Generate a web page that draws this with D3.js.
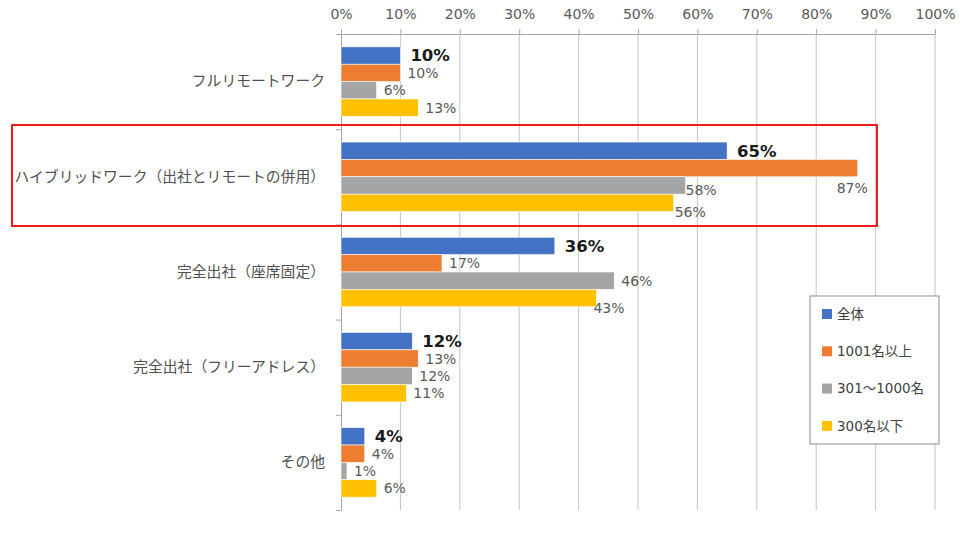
<!DOCTYPE html>
<html>
<head>
<meta charset="utf-8">
<script src="https://cdn.jsdelivr.net/npm/d3@7"></script>
<style>
  body { margin: 0; background: #fff; }
  text { font-family: "DejaVu Sans", "Noto Sans CJK JP", sans-serif; }
</style>
</head>
<body>
<div id="chart"></div>
<script>
// data
var categories = [
  "フルリモートワーク",
  "ハイブリッドワーク（出社とリモートの併用）",
  "完全出社（座席固定）",
  "完全出社（フリーアドレス）",
  "その他"
];
var seriesNames = ["全体", "1001名以上", "301～1000名", "300名以下"];
var seriesColors = ["#4472C4", "#ED7D31", "#A5A5A5", "#FFC000"];
var allValues   = [10, 65, 36, 12, 4];
var largeValues = [10, 87, 17, 13, 4];
var midValues   = [6, 58, 46, 12, 1];
var smallValues = [13, 56, 43, 11, 6];
var xTicks = [0, 10, 20, 30, 40, 50, 60, 70, 80, 90, 100];

var seriesValues = [allValues, largeValues, midValues, smallValues];

// hand-moved labels (category index + series index)
var labelNudge = {
  "1-1": { dx: 10, dy: 20, anchor: "end" },
  "1-2": { dx: 0, dy: 4 },
  "1-3": { dx: 1, dy: 9 },
  "2-3": { dx: -3, dy: 10 }
};

var svgWidth = 974;
var svgHeight = 537;
var plotLeft = 341, plotRight = 935, plotTop = 34, plotBottom = 510;

var svg = d3.select("#chart")
  .append("svg")
  .attr("width", svgWidth)
  .attr("height", svgHeight);

var x = d3.scaleLinear().domain([0, 100]).range([plotLeft, plotRight]);

var y0 = d3.scaleBand()
  .domain(categories)
  .range([plotTop, plotBottom])
  .paddingInner(0.27)
  .paddingOuter(0.135);

var y1 = d3.scaleBand()
  .domain(seriesNames)
  .range([0, y0.bandwidth()]);

var yIdx = d3.scaleLinear().domain([0, categories.length]).range([plotTop, plotBottom]);

// gridlines
svg.append("g")
  .selectAll("line")
  .data(xTicks.slice(1))
  .enter()
  .append("line")
    .attr("x1", d => x(d)).attr("x2", d => x(d))
    .attr("y1", plotTop).attr("y2", plotBottom)
    .attr("stroke", "#c4c4c4")
    .attr("stroke-width", 1);

// top axis
var xAxis = svg.append("g")
  .attr("transform", `translate(0,${plotTop})`)
  .call(d3.axisTop(x).tickValues(xTicks).tickFormat(d => d + "%").tickSize(5).tickSizeOuter(0).tickPadding(9));
xAxis.select(".domain").attr("stroke", "#a6a6a6");
xAxis.selectAll(".tick line").attr("stroke", "#a6a6a6");
xAxis.selectAll("text")
  .attr("fill", "#595959")
  .attr("font-size", "14px")
  .attr("dy", "-0.05em");

// left axis with boundary ticks
var yAxis = svg.append("g")
  .attr("transform", `translate(${plotLeft},0)`)
  .call(d3.axisLeft(yIdx).tickValues(d3.range(categories.length + 1)).tickFormat("").tickSize(5).tickSizeOuter(0));
yAxis.select(".domain").attr("stroke", "#a6a6a6");
yAxis.selectAll(".tick line").attr("stroke", "#a6a6a6");

var yLabels = svg.append("g")
  .attr("transform", `translate(${plotLeft},0)`)
  .call(d3.axisLeft(y0).tickSize(0).tickPadding(16));
yLabels.select(".domain").remove();
yLabels.selectAll("text")
  .attr("fill", "#505050")
  .attr("font-size", "14.8px");

// bars
var groups = svg.append("g")
  .selectAll("g")
  .data(categories)
  .enter()
  .append("g")
    .attr("transform", d => `translate(0,${y0(d)})`);

groups.selectAll("rect")
  .data((c, ci) => seriesNames.map((s, si) => ({ ci: ci, si: si, s: s, v: seriesValues[si][ci] })))
  .enter()
  .append("rect")
    .attr("x", x(0))
    .attr("y", d => y1(d.s))
    .attr("width", d => x(d.v) - x(0))
    .attr("height", y1.bandwidth())
    .attr("fill", d => seriesColors[d.si])
    .attr("stroke", "#fff")
    .attr("stroke-width", 0.6);

groups.selectAll("text.lbl")
  .data((c, ci) => seriesNames.map((s, si) => ({ ci: ci, si: si, s: s, v: seriesValues[si][ci] })))
  .enter()
  .append("text")
    .attr("class", "lbl")
    .each(function(d) {
      var n = labelNudge[d.ci + "-" + d.si] || { dx: d.si === 0 ? 10 : 7, dy: 0 };
      d3.select(this)
        .attr("x", x(d.v) + n.dx)
        .attr("y", y1(d.s) + y1.bandwidth() / 2 + n.dy)
        .attr("text-anchor", n.anchor || "start");
    })
    .attr("dy", "0.36em")
    .attr("font-size", d => d.si === 0 ? "16.5px" : "14px")
    .attr("font-weight", d => d.si === 0 ? "bold" : "normal")
    .attr("fill", d => d.si === 0 ? "#1a1a1a" : "#595959")
    .text(d => d.v + "%");

// highlight box
svg.append("rect")
  .attr("x", 12).attr("y", 125)
  .attr("width", 865).attr("height", 101)
  .attr("fill", "none")
  .attr("stroke", "#ee1c1c")
  .attr("stroke-width", 2);

// legend
var legend = svg.append("g").attr("transform", "translate(810,296)");
legend.append("rect")
  .attr("width", 129).attr("height", 148)
  .attr("fill", "#fff")
  .attr("stroke", "#8c8c8c")
  .attr("stroke-width", 1);
var items = legend.selectAll("g.item")
  .data(seriesNames)
  .enter()
  .append("g")
    .attr("class", "item")
    .attr("transform", (d, i) => `translate(12,${18 + i * 37.3})`);
items.append("rect")
  .attr("x", 0).attr("y", -5)
  .attr("width", 10).attr("height", 10)
  .attr("fill", (d, i) => seriesColors[i]);
items.append("text")
  .attr("x", 15).attr("dy", "0.36em")
  .attr("font-size", "13.5px")
  .attr("fill", "#404040")
  .text(d => d);
</script>
</body>
</html>
